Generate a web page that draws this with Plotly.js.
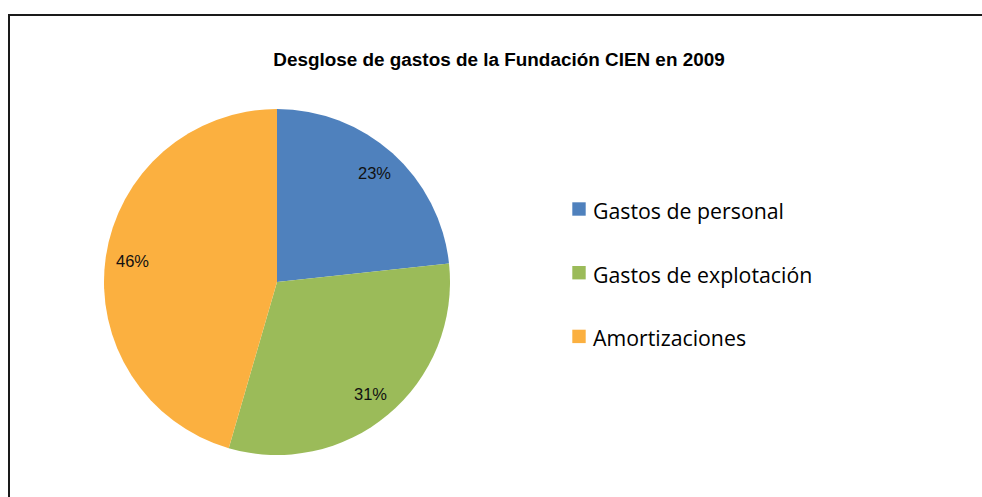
<!DOCTYPE html>
<html>
<head>
<meta charset="utf-8">
<script src="https://cdn.plot.ly/plotly-3.0.1.min.js"></script>
<style>
  html, body { margin: 0; padding: 0; background: #ffffff; }
  #chart { width: 982px; height: 497px; }
</style>
</head>
<body>
<div id="chart"></div>
<script>
// ---- data ----
const categories = ["Gastos de personal", "Gastos de explotación", "Amortizaciones"];
const values = [23.3, 31.2, 45.5];
const colors = ["#4F81BD", "#9BBB59", "#FBB040"];
const chartTitle = "Desglose de gastos de la Fundación CIEN en 2009";

// ---- geometry ----
const W = 982, H = 497;
const dom = { x: [104 / W, 450 / W], y: [1 - 455 / H, 1 - 109 / H] };
const cxp = (dom.x[0] + dom.x[1]) / 2 * W;
const cyp = (1 - (dom.y[0] + dom.y[1]) / 2) * H;
const R = Math.min((dom.x[1] - dom.x[0]) * W, (dom.y[1] - dom.y[0]) * H) / 2;
const labelFrac = 0.845;

const total = values.reduce((a, b) => a + b, 0);
const annotations = [];
const shapes = [];

// percentage labels, placed on the middle angle of each slice
let cum = 0;
values.forEach((v, i) => {
  const mid = (cum + v / 2) / total * 2 * Math.PI; // clockwise from 12 o'clock
  cum += v;
  const px = cxp + labelFrac * R * Math.sin(mid);
  const py = cyp - labelFrac * R * Math.cos(mid);
  annotations.push({
    xref: "paper", yref: "paper",
    x: px / W, y: 1 - py / H,
    xanchor: "center", yanchor: "middle",
    text: Math.round(v / total * 100 + 1e-9) + "%",
    showarrow: false,
    font: { family: "Liberation Sans, Arial, sans-serif", size: 16.5, color: "#111111" }
  });
});

// custom legend
const legTop = 202.3, legStep = 63.7, swX0 = 572.3, swSize = 13.4, textX = 591;
categories.forEach((c, i) => {
  const top = legTop + i * legStep;
  shapes.push({
    type: "rect", xref: "paper", yref: "paper",
    x0: swX0 / W, x1: (swX0 + swSize) / W,
    y0: 1 - top / H, y1: 1 - (top + swSize) / H,
    fillcolor: colors[i], line: { width: 0 }
  });
  annotations.push({
    xref: "paper", yref: "paper",
    x: textX / W, y: 1 - (top + 8) / H,
    xanchor: "left", yanchor: "middle",
    text: c, showarrow: false,
    font: { family: "Open Sans, Noto Sans, sans-serif", size: 21.3, color: "#000000" }
  });
});

// outer frame
shapes.push({
  type: "rect", xref: "paper", yref: "paper",
  x0: 9 / W, x1: 1.05, y0: 1 - 15 / H, y1: -0.05,
  line: { width: 2, color: "#1a1a1a" }, fillcolor: "rgba(0,0,0,0)"
});

const trace = {
  type: "pie",
  labels: categories,
  values: values,
  sort: false,
  direction: "clockwise",
  rotation: 0,
  marker: { colors: colors, line: { width: 0 } },
  textinfo: "none",
  hoverinfo: "label+percent",
  domain: dom,
  showlegend: false
};

const layout = {
  width: W, height: H,
  margin: { l: 0, r: 0, t: 0, b: 0 },
  paper_bgcolor: "#ffffff",
  showlegend: false,
  title: {
    text: chartTitle,
    x: 499 / W, xanchor: "center", xref: "container",
    y: 1 - 59 / H, yanchor: "middle", yref: "container",
    font: { family: "Liberation Sans, Arial, sans-serif", size: 18.9, weight: "bold", color: "#000000" }
  },
  annotations: annotations,
  shapes: shapes
};

Plotly.newPlot("chart", [trace], layout, { displayModeBar: false, staticPlot: true });
</script>
</body>
</html>
